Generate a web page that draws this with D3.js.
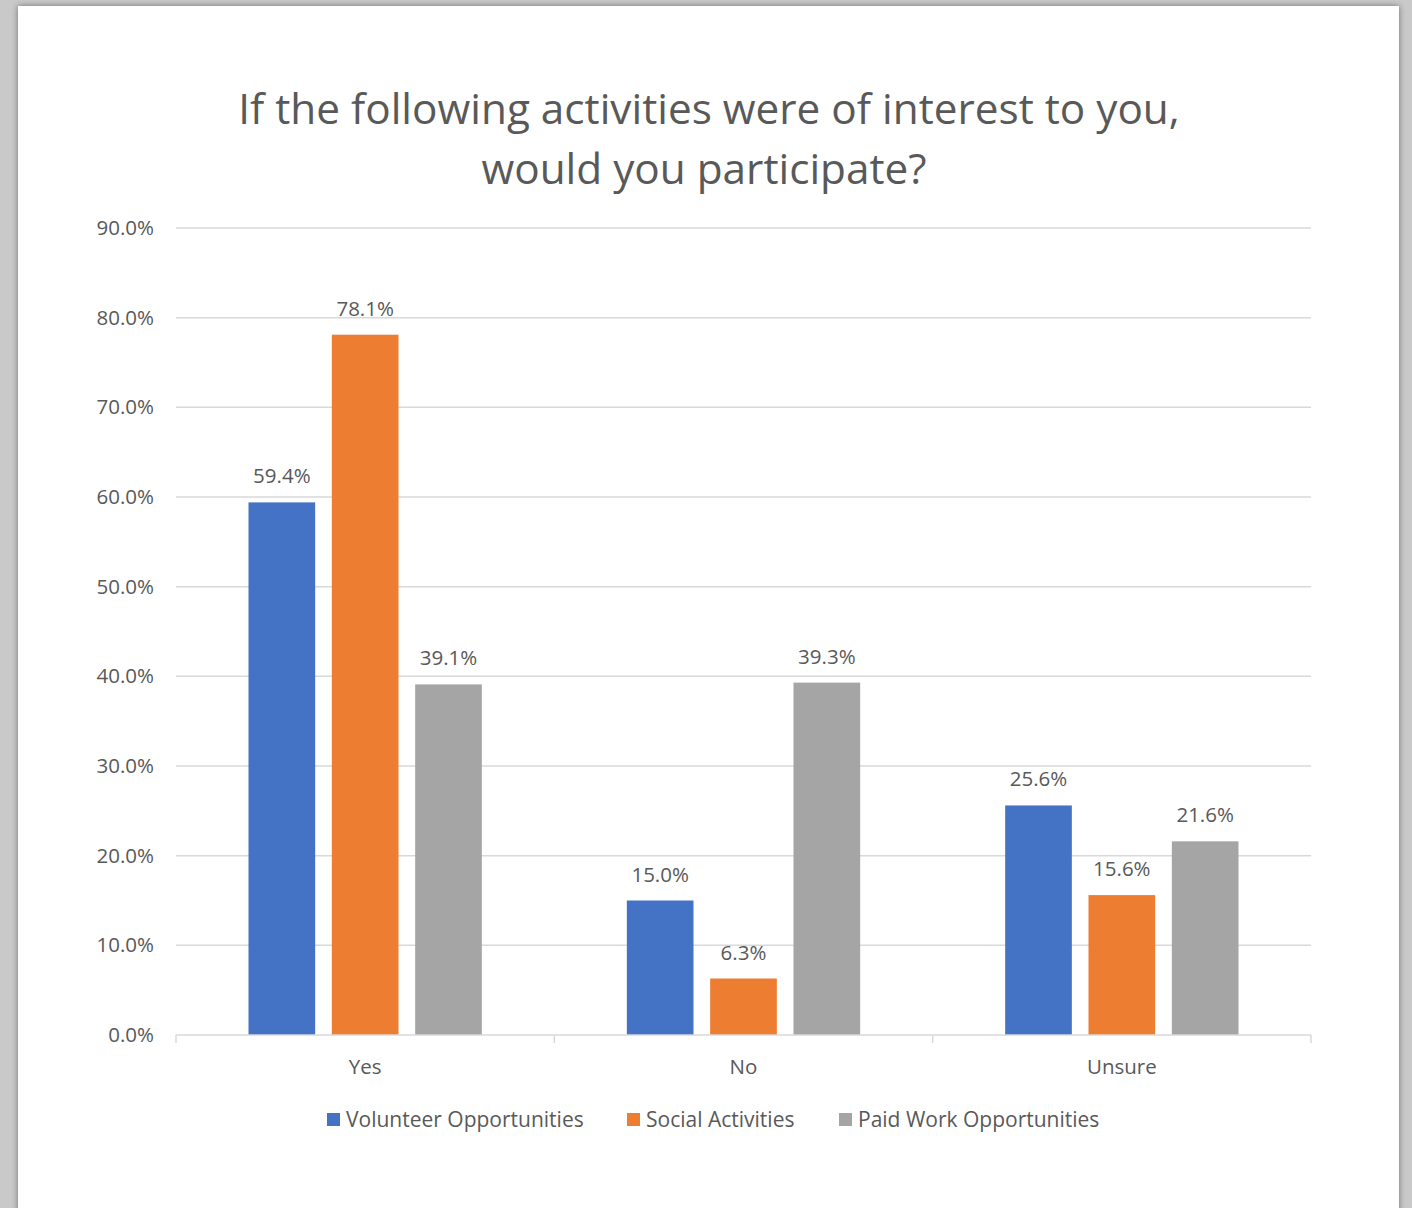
<!DOCTYPE html>
<html>
<head>
<meta charset="utf-8">
<script src="https://cdn.jsdelivr.net/npm/d3@7"></script>
<style>
  body { margin: 0; background: #c8c9c8; }
  svg text { font-family: "Open Sans", sans-serif; fill: #595959; }
</style>
</head>
<body>
<svg id="chart" width="1412" height="1208"></svg>
<script>
// data
const categories = ["Yes", "No", "Unsure"];
const series = ["Volunteer Opportunities", "Social Activities", "Paid Work Opportunities"];
const volunteer = [59.4, 15.0, 25.6];
const social = [78.1, 6.3, 15.6];
const paidWork = [39.1, 39.3, 21.6];
const yTicks = [0, 10, 20, 30, 40, 50, 60, 70, 80, 90];
const colors = ["#4472c4", "#ed7d31", "#a5a5a5"];

const values = [volunteer, social, paidWork];

const svg = d3.select("#chart");

// page shadow + white sheet
let defs = svg.append("defs");
let f = defs.append("filter").attr("id", "shadow").attr("x", -0.05).attr("y", -0.05).attr("width", 1.1).attr("height", 1.1);
f.append("feDropShadow").attr("dx", 0).attr("dy", 0).attr("stdDeviation", 3).attr("flood-color", "#000").attr("flood-opacity", 0.45);

svg.append("rect")
  .attr("x", 18).attr("y", 6)
  .attr("width", 1381).attr("height", 1230)
  .attr("fill", "#fff")
  .attr("filter", "url(#shadow)");

// title
svg.append("text")
  .attr("x", 709).attr("y", 124)
  .attr("text-anchor", "middle")
  .style("font-size", "42.3px")
  .text("If the following activities were of interest to you,");
svg.append("text")
  .attr("x", 704).attr("y", 184)
  .attr("text-anchor", "middle")
  .style("font-size", "42.3px")
  .text("would you participate?");

let margin = {left: 176, right: 1311, top: 228, bottom: 1035};

let x0 = d3.scaleBand().domain(categories).range([margin.left, margin.right]);
let x1 = d3.scaleBand().domain(series).range([0, x0.bandwidth()]).paddingInner(0.2).paddingOuter(0.87);
let y = d3.scaleLinear().domain([0, 90]).range([margin.bottom, margin.top]);

// gridlines
svg.append("g").selectAll("line")
  .data(yTicks.slice(1))
  .enter().append("line")
    .attr("x1", margin.left).attr("x2", margin.right)
    .attr("y1", d => y(d)).attr("y2", d => y(d))
    .attr("stroke", "#d9d9d9").attr("stroke-width", 1.5);

// y axis labels
svg.append("g").selectAll("text")
  .data(yTicks)
  .enter().append("text")
    .attr("x", 154).attr("y", d => y(d) + 7)
    .attr("text-anchor", "end")
    .style("font-size", "20.5px")
    .text(d => d.toFixed(1) + "%");

// bars
let groups = svg.append("g").selectAll("g")
  .data(categories)
  .enter().append("g")
    .attr("transform", d => `translate(${x0(d)},0)`);

groups.selectAll("rect")
  .data((c, i) => series.map((s, j) => ({s: s, j: j, v: values[j][i]})))
  .enter().append("rect")
    .attr("x", d => x1(d.s))
    .attr("y", d => y(d.v))
    .attr("width", x1.bandwidth())
    .attr("height", d => y(0) - y(d.v))
    .attr("fill", d => colors[d.j]);

groups.selectAll("text")
  .data((c, i) => series.map((s, j) => ({s: s, j: j, v: values[j][i]})))
  .enter().append("text")
    .attr("x", d => x1(d.s) + x1.bandwidth() / 2)
    .attr("y", d => y(d.v) - 19)
    .attr("text-anchor", "middle")
    .style("font-size", "20.5px")
    .text(d => d.v.toFixed(1) + "%");

// x axis
let xAxis = svg.append("g");
xAxis.append("line")
  .attr("x1", margin.left).attr("x2", margin.right)
  .attr("y1", y(0)).attr("y2", y(0))
  .attr("stroke", "#d9d9d9").attr("stroke-width", 1.5);
xAxis.selectAll(".tick")
  .data(categories.map(c => x0(c)).concat([margin.right]))
  .enter().append("line")
    .attr("x1", d => d).attr("x2", d => d)
    .attr("y1", y(0)).attr("y2", y(0) + 8)
    .attr("stroke", "#d9d9d9").attr("stroke-width", 1.5);
xAxis.selectAll("text")
  .data(categories)
  .enter().append("text")
    .attr("x", d => x0(d) + x0.bandwidth() / 2)
    .attr("y", 1074)
    .attr("text-anchor", "middle")
    .style("font-size", "20.5px")
    .text(d => d);

// legend
let legendX = [327, 627, 839];
let legend = svg.append("g").selectAll("g")
  .data(series)
  .enter().append("g")
    .attr("transform", (d, i) => `translate(${legendX[i]},1113)`);
legend.append("rect")
  .attr("width", 13).attr("height", 13)
  .attr("fill", (d, i) => colors[i]);
legend.append("text")
  .attr("x", 19).attr("y", 14)
  .style("font-size", "21px")
  .text(d => d);
</script>
</body>
</html>
